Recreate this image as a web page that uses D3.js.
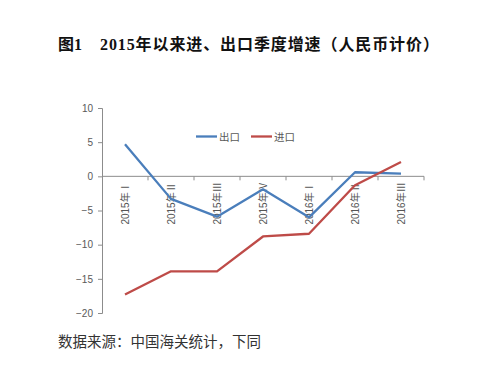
<!DOCTYPE html>
<html><head><meta charset="utf-8">
<script src="https://cdn.jsdelivr.net/npm/d3@7"></script>
<style>body{margin:0;background:#fff}svg{display:block}</style>
</head><body>
<script>
const categories = ["2015年Ⅰ","2015年Ⅱ","2015年Ⅲ","2015年Ⅳ","2016年Ⅰ","2016年Ⅱ","2016年Ⅲ"];
const exportVals = [4.7, -3.3, -5.9, -1.9, -6.0, 0.6, 0.4];
const importVals = [-17.3, -13.9, -13.9, -8.8, -8.4, -1.3, 2.1];
const yTicks = [10, 5, 0, -5, -10, -15, -20];
const seriesNames = ["出口", "进口"];
const colors = ["#4a7ebb", "#be4b48"];

const W = 500, H = 372;
const svg = d3.select("body").append("svg").attr("width", W).attr("height", H);

const title = svg.append("text").attr("x", 58).attr("y", 50)
  .attr("font-family", "'Liberation Serif','Noto Sans CJK SC',serif")
  .attr("font-weight", "bold").attr("font-size", 16).attr("fill", "#111")
  .attr("xml:space","preserve");
title.append("tspan").text("图1");
title.append("tspan").attr("x", 100).attr("letter-spacing", 0.9).text("2015年以来进、出口季度增速（人民币计价）");

const x = d3.scaleBand().domain(categories).range([102, 424]);
const y = d3.scaleLinear().domain([-20, 10]).range([313, 108]);

const axisColor = "#8c8c8c";
const yAxis = svg.append("g").attr("transform", "translate(102,0)")
  .call(d3.axisLeft(y).tickValues(yTicks).tickSize(4).tickPadding(5).tickFormat(d3.format("d")));
yAxis.select(".domain").attr("stroke", axisColor);
yAxis.selectAll(".tick line").attr("stroke", axisColor);
yAxis.selectAll("text").attr("font-family", "'Liberation Sans',Arial,sans-serif").attr("font-size", 10).attr("fill", "#595959");

// x axis at zero
const y0 = y(0);
svg.append("line").attr("x1", 102).attr("x2", 424).attr("y1", y0).attr("y2", y0).attr("stroke", axisColor);
categories.forEach((c, i) => {
  const xb = x(c) + x.bandwidth();
  svg.append("line").attr("x1", xb).attr("x2", xb).attr("y1", y0).attr("y2", y0 + 4).attr("stroke", axisColor);
});
categories.forEach(c => {
  const cx = x(c) + x.bandwidth() / 2;
  svg.append("text").attr("transform", `translate(${cx + 3.5},${y0 + 6}) rotate(-90)`)
    .attr("text-anchor", "end")
    .attr("font-family", "'Liberation Sans','Noto Sans CJK SC',sans-serif")
    .attr("font-size", 10).attr("fill", "#555").text(c);
});

const line = d3.line().x((d, i) => x(categories[i]) + x.bandwidth() / 2).y(d => y(d));
[exportVals, importVals].forEach((vals, k) => {
  svg.append("path").datum(vals).attr("d", line).attr("fill", "none")
    .attr("stroke", colors[k]).attr("stroke-width", 2.3).attr("stroke-linejoin", "round");
});

// legend
const legX = [196, 251];
seriesNames.forEach((n, k) => {
  svg.append("line").attr("x1", legX[k]).attr("x2", legX[k] + 21).attr("y1", 136.5).attr("y2", 136.5)
    .attr("stroke", colors[k]).attr("stroke-width", 2.3);
  svg.append("text").attr("x", legX[k] + 23).attr("y", 140.5)
    .attr("font-family", "'Noto Sans CJK SC',sans-serif").attr("font-size", 10.5).attr("fill", "#595959").text(n);
});

svg.append("text").attr("x", 58).attr("y", 347)
  .attr("font-family", "'Noto Sans CJK SC',serif").attr("font-size", 14.5).attr("fill", "#333")
  .text("数据来源：中国海关统计，下同");
</script>
</body></html>
